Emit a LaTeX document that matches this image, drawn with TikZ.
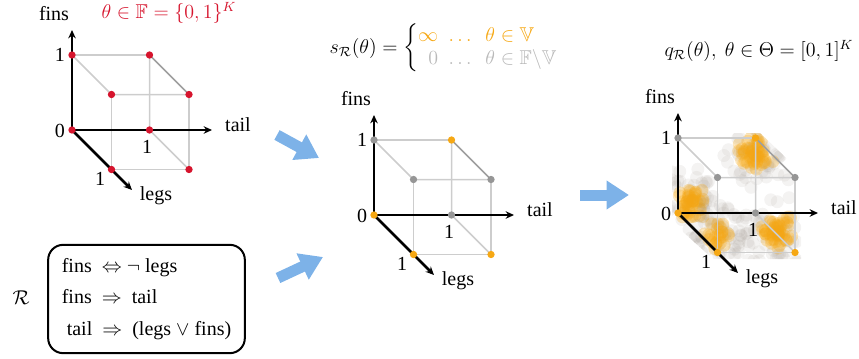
\documentclass[tikz,border=0pt]{standalone}
\usepackage{amsmath}
\usepackage{amssymb}
\usepackage{fontspec}
\setmainfont{Liberation Serif}
\usepackage{tikz}
\usetikzlibrary{calc, arrows.meta}
\usepackage{xcolor}

\definecolor{dotred}{RGB}{214,20,45}
\definecolor{dotorange}{RGB}{246,168,20}
\definecolor{dotgray}{RGB}{150,150,150}
\definecolor{edgegray}{RGB}{205,205,205}
\definecolor{textgray}{RGB}{185,185,185}
\definecolor{arrowblue}{RGB}{125,178,232}
\definecolor{cloudgray}{RGB}{150,140,130}

\begin{document}
\begin{tikzpicture}[x=0.6pt, y=-0.6pt, font=\fontsize{12}{14}\selectfont, line join=round,
    axis/.style={line width=1.6pt, -{Stealth[length=5pt, width=4.5pt]}},
    edge/.style={edgegray, line width=0.9pt},
    fatarrow/.style={arrowblue, line width=6.6pt, -{Triangle[length=13.5pt, width=16.5pt]}}]

    \useasboundingbox (0,0) rectangle (859,358);

    % ==========================================
    % SAMPLES OF q (drawn first, under the cube)
    % ==========================================

    \pgfmathsetseed{11}
    \begin{scope}
        % keep the samples inside the outline of the third cube
        \clip (672,133) -- (760,133) -- (801,172) -- (801,259) -- (713,259) -- (672,222) -- cycle;
        \foreach \cx/\cy/\n/\s in {755/155/50/10, 692/203/45/8, 776/232/50/9, 720/235/25/8} {
            \foreach \i in {1,...,55}
                \fill[cloudgray, opacity=0.1] ({\cx+19*(rand+rand)},{\cy+19*(rand+rand)}) circle (6.5);
            \foreach \i in {1,...,\n}
                \fill[dotorange, opacity=0.28] ({\cx+\s*(rand+rand)},{\cy+\s*(rand+rand)}) circle (6.5);
        }
    \end{scope}

    % ==========================================
    % THE THREE CUBES
    % ==========================================

    % origin x/y, name, colour of the points in V, colour of the rest
    \foreach \ox/\oy/\nm/\cin/\cout in {72/130/a/dotred/dotred,
                                         374/215/b/dotorange/dotgray,
                                         678/213/c/dotorange/dotgray} {
    \begin{scope}[shift={(\ox,\oy)}]
        \coordinate (\nm-O)   at (0,0);
        \coordinate (\nm-T)   at (77.5,0);
        \coordinate (\nm-F)   at (0,-75);
        \coordinate (\nm-L)   at (39.5,39.5);
        \coordinate (\nm-TF)  at (77.5,-75);
        \coordinate (\nm-TL)  at (117,39.5);
        \coordinate (\nm-FL)  at (39.5,-35.5);
        \coordinate (\nm-TFL) at (117,-35.5);
        \coordinate (\nm-fend) at (0,-100);
        \coordinate (\nm-tend) at (140,0);
        \coordinate (\nm-lend) at (60,60);

        % cube edges
        \draw[edge] (\nm-F) -- (\nm-TF);
        \draw[edge] (\nm-F) -- (\nm-FL) -- (\nm-TFL);
        \draw[edge] (\nm-FL) -- (\nm-L) -- (\nm-TL) -- (\nm-TFL);
        \draw[edge] (\nm-TF) -- (\nm-T) -- (\nm-TL);
        \draw[edge, gray!75] (\nm-TF) -- (\nm-TFL);

        % axes
        \draw[axis] (\nm-O) -- (\nm-fend);
        \draw[axis] (\nm-O) -- (\nm-tend);
        \draw[axis] (\nm-O) -- (\nm-lend);

        \node (\nm-fins) at (-18,-116) {fins};
        \node (\nm-tail) at (166,-5) {tail};
        \node (\nm-legs) at (84,66) {legs};
        \node (\nm-one-f) at (-12,-75) {1};
        \node (\nm-zero) at (-12,1) {0};
        \node (\nm-one-t) at (75,17) {1};
        \node (\nm-one-l) at (28,49) {1};

        % corners
        \foreach \v in {O, TF, L, TL}
            \fill[\cin] (\nm-\v) circle (2.2pt);
        \foreach \v in {F, FL, TFL, T}
            \fill[\cout] (\nm-\v) circle (2.2pt);
    \end{scope}
    }

    % ==========================================
    % FORMULAS
    % ==========================================

    \node[dotred] (F-set) at (169,13) {$\theta\in\mathbb{F}=\{0,1\}^K$};

    \node (s-def) at (444,48) {$s_{\mathcal{R}}(\theta) =\left\{\begin{array}{@{}r@{\ }l@{}}
        \textcolor{dotorange}{\infty} & \textcolor{dotorange}{\;\ldots\;\ \theta\in\mathbb{V}}\\
        \textcolor{textgray}{0} & \textcolor{textgray}{\;\ldots\;\ \theta\in\mathbb{F}\backslash\mathbb{V}}
        \end{array}\right.$};

    \node (q-def) at (759,51) {$q_{\mathcal{R}}(\theta),\ \theta\in\Theta=[0,1]^K$};

    % ==========================================
    % RULES
    % ==========================================

    \node[draw, line width=1.2pt, rounded corners=9pt, minimum width=118pt, minimum height=65pt,
        align=left] (rules) at (146.5,299) {%
        fins \ $\Leftrightarrow$ $\neg$ legs\\[5pt]
        fins \ $\Rightarrow$ \ tail\\[5pt]
        \ tail \ $\Rightarrow$ \ (legs $\vee$ fins)};
    \node (R) at (21,298) {$\mathcal{R}$};

    % ==========================================
    % BLUE ARROWS
    % ==========================================

    \coordinate (a1s) at (277,135);
    \coordinate (a1e) at (319,158);
    \coordinate (a2s) at (278,278);
    \coordinate (a2e) at (323,257);
    \coordinate (a3s) at (580,195);
    \coordinate (a3e) at (629,195);
    \draw[fatarrow] (a1s) -- (a1e);
    \draw[fatarrow] (a2s) -- (a2e);
    \draw[fatarrow] (a3s) -- (a3e);

\end{tikzpicture}
\end{document}
